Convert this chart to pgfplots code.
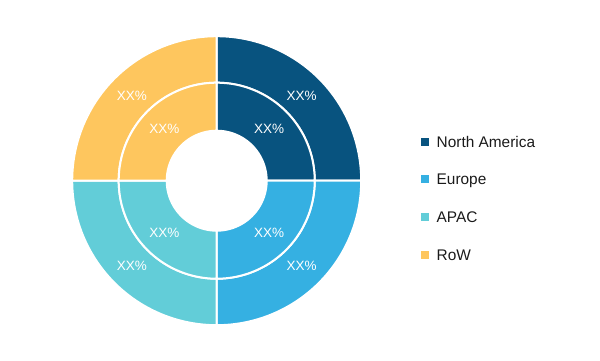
\documentclass[border=0pt]{standalone}
\usepackage{pgfplots}
\pgfplotsset{compat=1.18}
\usepackage{pgfplotstable}
\usepackage{fontspec}
\setmainfont{Liberation Sans}
\definecolor{c0}{HTML}{08537F}
\definecolor{c1}{HTML}{35B0E2}
\definecolor{c2}{HTML}{62CDD8}
\definecolor{c3}{HTML}{FEC65E}
\definecolor{legtext}{HTML}{1A1A1A}

\pgfplotstableread{
region outer inner
{North America} 25 25
Europe 25 25
APAC 25 25
RoW 25 25
}\shares

\newcommand\gv[2]{\csname #1#2\endcsname}
\newcommand\prepangles{%
  \gdef\cumO{0}\gdef\cumI{0}%
  \foreach \i in {0,1,2,3}{%
    \pgfplotstablegetelem{\i}{outer}\of\shares \let\vO\pgfplotsretval
    \pgfplotstablegetelem{\i}{inner}\of\shares \let\vI\pgfplotsretval
    \pgfmathsetmacro\sO{90-3.6*\cumO}%
    \pgfmathsetmacro\eO{90-3.6*(\cumO+\vO)}%
    \pgfmathsetmacro\mO{(\sO+\eO)/2}%
    \pgfmathsetmacro\sI{90-3.6*\cumI}%
    \pgfmathsetmacro\eI{90-3.6*(\cumI+\vI)}%
    \pgfmathsetmacro\mI{(\sI+\eI)/2}%
    \expandafter\xdef\csname sO\i\endcsname{\sO}%
    \expandafter\xdef\csname eO\i\endcsname{\eO}%
    \expandafter\xdef\csname mO\i\endcsname{\mO}%
    \expandafter\xdef\csname sI\i\endcsname{\sI}%
    \expandafter\xdef\csname eI\i\endcsname{\eI}%
    \expandafter\xdef\csname mI\i\endcsname{\mI}%
    \pgfmathsetmacro\t{\cumO+\vO}\xdef\cumO{\t}%
    \pgfmathsetmacro\t{\cumI+\vI}\xdef\cumI{\t}%
    \pgfplotstablegetelem{\i}{region}\of\shares
    \expandafter\xdef\csname rn\i\endcsname{\pgfplotsretval}%
  }%
}
\prepangles

\begin{document}
\begin{tikzpicture}
\begin{axis}[scale only axis, width=600bp, height=360bp,
  xmin=0, xmax=600, ymin=0, ymax=360, axis lines=none, clip=false]
\path (axis cs:0,0) (axis cs:600,360);
\coordinate (C) at (axis cs:216.7,179.3);
\pgfplotsinvokeforeach{0,1,2,3}{
  \filldraw[fill=c#1, draw=white, line width=2bp]
    ([shift={(\gv{sO}{#1}:144.5bp)}]C) arc[start angle=\gv{sO}{#1}, end angle=\gv{eO}{#1}, radius=144.5bp]
    -- ([shift={(\gv{eO}{#1}:98bp)}]C) arc[start angle=\gv{eO}{#1}, end angle=\gv{sO}{#1}, radius=98bp] -- cycle;
  \filldraw[fill=c#1, draw=white, line width=2bp]
    ([shift={(\gv{sI}{#1}:98bp)}]C) arc[start angle=\gv{sI}{#1}, end angle=\gv{eI}{#1}, radius=98bp]
    -- ([shift={(\gv{eI}{#1}:50bp)}]C) arc[start angle=\gv{eI}{#1}, end angle=\gv{sI}{#1}, radius=50bp] -- cycle;
  \node[text=white, font=\fontsize{13.5bp}{16bp}\selectfont, inner sep=0pt]
    at ([shift={(\gv{mO}{#1}:120bp)}]C) {XX\%};
  \node[text=white, font=\fontsize{13.5bp}{16bp}\selectfont, inner sep=0pt]
    at ([shift={(\gv{mI}{#1}:74bp)}]C) {XX\%};
}
\pgfplotsinvokeforeach{0,1,2,3}{
  \fill[c#1] (axis cs:421.3,{218.3-37.6*#1-4}) rectangle (axis cs:429.3,{218.3-37.6*#1+4});
  \node[anchor=base west, inner sep=0pt, text=legtext, font=\fontsize{15.4bp}{18bp}\selectfont]
    at (axis cs:436.5,{218.3-37.6*#1-5.5}) {\gv{rn}{#1}};
}
\end{axis}
\end{tikzpicture}
\end{document}
